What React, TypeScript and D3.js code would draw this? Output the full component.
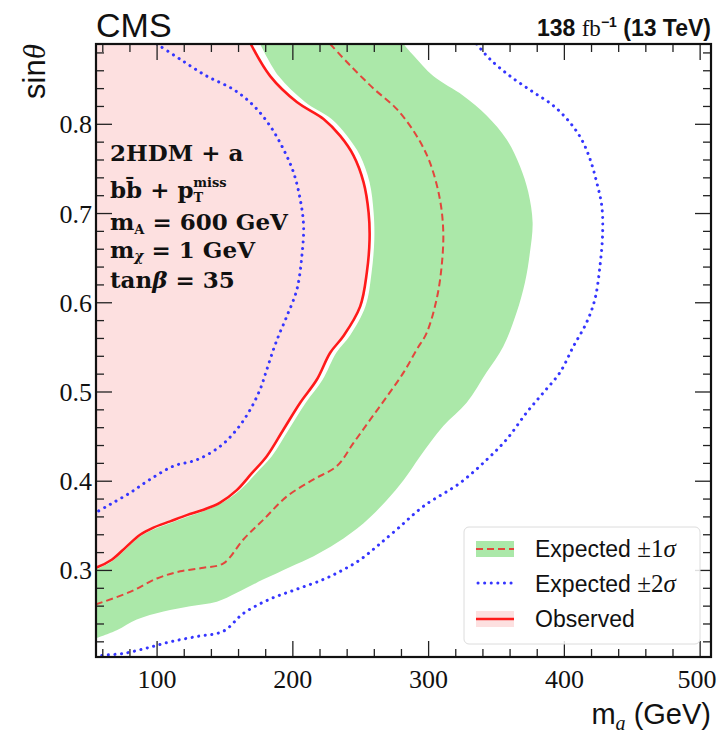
import * as d3 from "d3";

type Pt = [number, number];

// curves: [m_a (GeV), sin theta]
const observed: Pt[] = [
  [169.0, 0.89], [183.3, 0.854], [202.9, 0.825], [222.6, 0.806], [234.9, 0.787], [244.7, 0.765],
  [252.1, 0.735], [255.8, 0.701], [256.5, 0.671], [254.5, 0.634], [249.6, 0.596], [237.4, 0.563],
  [227.5, 0.544], [217.7, 0.514], [205.4, 0.488], [193.1, 0.458], [180.8, 0.428], [169.8, 0.409],
  [158.7, 0.39], [146.4, 0.376], [134.2, 0.368], [121.9, 0.362], [109.6, 0.355], [97.3, 0.348],
  [87.5, 0.34], [77.7, 0.327], [66.6, 0.312], [55, 0.303],
];

const expected: Pt[] = [
  [227.5, 0.89], [242.2, 0.866], [259.5, 0.84], [276.6, 0.817], [291.2, 0.787], [301.0, 0.757],
  [308.3, 0.716], [310.8, 0.679], [309.6, 0.641], [305.9, 0.604], [298.5, 0.566], [291.4, 0.548],
  [281.6, 0.522], [269.3, 0.495], [257.0, 0.469], [244.7, 0.443], [232.4, 0.417], [215.3, 0.402],
  [195.6, 0.383], [178.4, 0.357], [163.7, 0.335], [148.9, 0.308], [134.2, 0.303], [117.0, 0.299],
  [99.8, 0.291], [80.1, 0.276], [55, 0.262],
];

const minus1: Pt[] = [
  [175.9, 0.89], [189.5, 0.854], [209.0, 0.825], [228.5, 0.806], [240.0, 0.787], [249.5, 0.765],
  [256.5, 0.735], [259.5, 0.701], [260.0, 0.671], [258.0, 0.634], [253.5, 0.596], [242.0, 0.563],
  [232.0, 0.544], [222.0, 0.514], [209.5, 0.488], [197.0, 0.458], [184.5, 0.428], [173.0, 0.409],
  [161.0, 0.39], [148.0, 0.376], [135.0, 0.367], [121.9, 0.36], [109.6, 0.353], [97.3, 0.346],
  [87.5, 0.338], [77.7, 0.325], [66.6, 0.31], [55, 0.301],
];

const plus1: Pt[] = [
  [281.5, 0.89], [288.9, 0.877], [303.4, 0.854], [325.5, 0.832], [342.7, 0.81], [357.5, 0.783],
  [367.3, 0.753], [373.4, 0.724], [376.6, 0.69], [374.6, 0.656], [371.0, 0.623], [364.8, 0.589],
  [355.0, 0.551], [342.7, 0.522], [328.0, 0.488], [310.8, 0.462], [293.8, 0.428], [281.5, 0.401],
  [269.3, 0.379], [252.1, 0.353], [232.4, 0.331], [215.3, 0.316], [198.0, 0.304], [178.4, 0.29],
  [158.7, 0.275], [144.0, 0.265], [124.3, 0.26], [104.7, 0.254], [85.0, 0.245], [70.3, 0.233],
  [55, 0.224],
];

const minus2: Pt[] = [
  [99.8, 0.89], [116.9, 0.873], [136.6, 0.854], [156.3, 0.839], [171.0, 0.821], [183.3, 0.798],
  [193.1, 0.772], [200.5, 0.746], [205.4, 0.716], [207.9, 0.686], [206.6, 0.652], [203.0, 0.615],
  [195.6, 0.585], [189.5, 0.563], [185.8, 0.548], [180.8, 0.525], [175.9, 0.503], [168.5, 0.48],
  [158.7, 0.458], [146.4, 0.439], [129.3, 0.424], [112.1, 0.417], [94.8, 0.402], [80.1, 0.387],
  [65.4, 0.374], [55, 0.365],
];

const plus2: Pt[] = [
  [335.4, 0.89], [345.2, 0.873], [360.0, 0.854], [377.1, 0.836], [391.8, 0.821], [404.1, 0.802],
  [412.7, 0.783], [418.9, 0.761], [423.8, 0.735], [427.5, 0.709], [428.2, 0.679], [426.2, 0.641],
  [422.5, 0.604], [416.4, 0.578], [406.6, 0.551], [396.8, 0.522], [384.4, 0.499], [372.2, 0.477],
  [357.5, 0.447], [342.7, 0.424], [323.1, 0.398], [296.3, 0.372], [276.6, 0.346], [261.9, 0.327],
  [249.6, 0.312], [237.4, 0.301], [222.6, 0.29], [202.9, 0.279], [183.3, 0.268], [163.7, 0.252],
  [148.9, 0.232], [129.3, 0.226], [109.6, 0.22], [92.4, 0.213], [75.2, 0.207], [60.5, 0.205],
  [55, 0.204],
];

const xTicks = [100, 200, 300, 400, 500];
const xTickLabels = ["100", "200", "300", "400", "500"];
const yTicks = [0.3, 0.4, 0.5, 0.6, 0.7, 0.8];
const yTickLabels = ["0.3", "0.4", "0.5", "0.6", "0.7", "0.8"];

const W = 718, H = 733;
const L = 96, R = 711, T = 44, B = 657;

const PINK = "#fde0e0";
const GREEN = "#abe8a9";
const RED = "#ff1a1a";
const DASH = "#e2463c";
const BLUE = "#3535ff";

export default function App() {
  const x = d3.scaleLinear().domain([55, 508]).range([L, R]);
  const y = d3.scaleLinear().domain([0.203, 0.89]).range([B, T]);
  const line = d3
    .line<Pt>()
    .x((d) => x(d[0]))
    .y((d) => y(d[1]))
    .curve(d3.curveCatmullRom.alpha(0.5));

  const [x0] = x.domain();
  const yTop = y.domain()[1];

  const pinkPath = line(observed) + `L${x(x0) - 3},${y(observed[observed.length - 1][1])}L${x(x0) - 3},${y(yTop) - 3}L${x(observed[0][0])},${y(yTop) - 3}Z`;
  const bandPath =
    line(minus1) + "L" + (line([...plus1].reverse()) as string).slice(1) + "Z";

  const xMinor = d3.range(60, 508, 20).filter((v) => v % 100 !== 0);
  const yMinor = d3.range(22, 89, 2).map((v) => v / 100).filter((v) => Math.round(v * 100) % 10 !== 0);

  const serif = "'Liberation Serif', 'DejaVu Serif', serif";
  const sans = "'Liberation Sans', Arial, sans-serif";
  const bserif = "'DejaVu Serif', serif";

  const MAJ = 16, MIN = 8;
  const lx = 476, lw = 38;

  return (
    <svg width={W} height={H} style={{ position: "absolute", left: 0, top: 0, background: "#fff" }} fontFamily={sans}>
      <defs>
        <clipPath id="plot">
          <rect x={L} y={T} width={R - L} height={B - T} />
        </clipPath>
      </defs>
      <g clipPath="url(#plot)">
        <path d={bandPath} fill={GREEN} />
        <path d={pinkPath} fill={PINK} />
        <path d={line(minus2) as string} fill="none" stroke={BLUE} strokeWidth={3} strokeDasharray="0.1 6.5" strokeLinecap="round" />
        <path d={line(plus2) as string} fill="none" stroke={BLUE} strokeWidth={3} strokeDasharray="0.1 6.5" strokeLinecap="round" />
        <path d={line(expected) as string} fill="none" stroke={DASH} strokeWidth={2} strokeDasharray="7 4" />
        <path d={line(observed) as string} fill="none" stroke={RED} strokeWidth={2.6} />
      </g>

      {/* ticks */}
      <g stroke="#222" strokeWidth={1.3}>
        {xTicks.map((v) => (
          <g key={"xm" + v}>
            <line x1={x(v)} x2={x(v)} y1={B} y2={B - MAJ} />
            <line x1={x(v)} x2={x(v)} y1={T} y2={T + MAJ} />
          </g>
        ))}
        {xMinor.map((v) => (
          <g key={"xn" + v}>
            <line x1={x(v)} x2={x(v)} y1={B} y2={B - MIN} />
            <line x1={x(v)} x2={x(v)} y1={T} y2={T + MIN} />
          </g>
        ))}
        {yTicks.map((v) => (
          <g key={"ym" + v}>
            <line x1={L} x2={L + MAJ} y1={y(v)} y2={y(v)} />
            <line x1={R} x2={R - MAJ} y1={y(v)} y2={y(v)} />
          </g>
        ))}
        {yMinor.map((v) => (
          <g key={"yn" + v}>
            <line x1={L} x2={L + MIN} y1={y(v)} y2={y(v)} />
            <line x1={R} x2={R - MIN} y1={y(v)} y2={y(v)} />
          </g>
        ))}
      </g>
      <rect x={L} y={T} width={R - L} height={B - T} fill="none" stroke="#111" strokeWidth={2.2} />

      {/* tick labels */}
      <g fontFamily={serif} fontSize={26} fill="#111">
        {xTicks.map((v, i) => (
          <text key={"xl" + v} x={Math.min(x(v), W - 21)} y={688} textAnchor="middle">{xTickLabels[i]}</text>
        ))}
        {yTicks.map((v, i) => (
          <text key={"yl" + v} x={92} y={y(v) + 9} textAnchor="end">{yTickLabels[i]}</text>
        ))}
      </g>

      {/* axis titles */}
      <text x={R} y={724} textAnchor="end" fontSize={29} fill="#111">
        m<tspan fontFamily={serif} fontStyle="italic" fontSize={20} dy={6}>a</tspan>
        <tspan dy={-6}> (GeV)</tspan>
      </text>
      <text transform={`translate(45,${T}) rotate(-90)`} textAnchor="end" fontSize={31} fill="#111">
        sin<tspan fontFamily={serif} fontStyle="italic">θ</tspan>
      </text>

      {/* header */}
      <text x={L} y={37} fontSize={34} fill="#111">CMS</text>
      <text x={R} y={36} textAnchor="end" fontSize={23} fontWeight="bold" fill="#111">
        138 <tspan fontFamily={serif} fontWeight="normal">fb</tspan>
        <tspan fontSize={14} dy={-9}>−1</tspan>
        <tspan dy={9}> (13 TeV)</tspan>
      </text>

      {/* annotations */}
      <g fontFamily={bserif} fontWeight="bold" fontSize={23} fill="#111">
        <text x={110} y={161}>2HDM + a</text>
        <text x={110} y={198}>
          bb̄ + p<tspan fontSize={13} dy={4}>T</tspan>
          <tspan fontSize={13} dx={-10} dy={-15}>miss</tspan>
        </text>
        <text x={110} y={230}>
          m<tspan fontSize={13} dy={4}>A</tspan>
          <tspan dy={-4}> = 600 GeV</tspan>
        </text>
        <text x={110} y={258}>
          m<tspan fontSize={14} fontStyle="italic" dy={3}>χ</tspan>
          <tspan dy={-3}> = 1 GeV</tspan>
        </text>
        <text x={110} y={288}>
          tan<tspan fontStyle="italic">β</tspan> = 35
        </text>
      </g>

      {/* legend */}
      <rect x={464} y={527} width={236} height={117} rx={5} fill="#fff" fillOpacity={0.85} stroke="#dcdcdc" />
      <rect x={lx} y={541} width={lw} height={16} fill={GREEN} />
      <line x1={lx} x2={lx + lw} y1={549} y2={549} stroke={DASH} strokeWidth={2} strokeDasharray="7 4" />
      <line x1={lx + 2} x2={lx + lw} y1={583} y2={583} stroke={BLUE} strokeWidth={3} strokeDasharray="0.1 6.5" strokeLinecap="round" />
      <rect x={lx} y={611} width={lw} height={16} fill={PINK} />
      <line x1={lx} x2={lx + lw} y1={619} y2={619} stroke={RED} strokeWidth={2.6} />
      <g fontSize={23} fill="#111">
        <text x={535} y={557}>
          Expected <tspan fontFamily={serif} fontSize={25}>±1</tspan><tspan fontFamily={serif} fontSize={25} fontStyle="italic">σ</tspan>
        </text>
        <text x={535} y={592}>
          Expected <tspan fontFamily={serif} fontSize={25}>±2</tspan><tspan fontFamily={serif} fontSize={25} fontStyle="italic">σ</tspan>
        </text>
        <text x={535} y={627}>Observed</text>
      </g>
    </svg>
  );
}
